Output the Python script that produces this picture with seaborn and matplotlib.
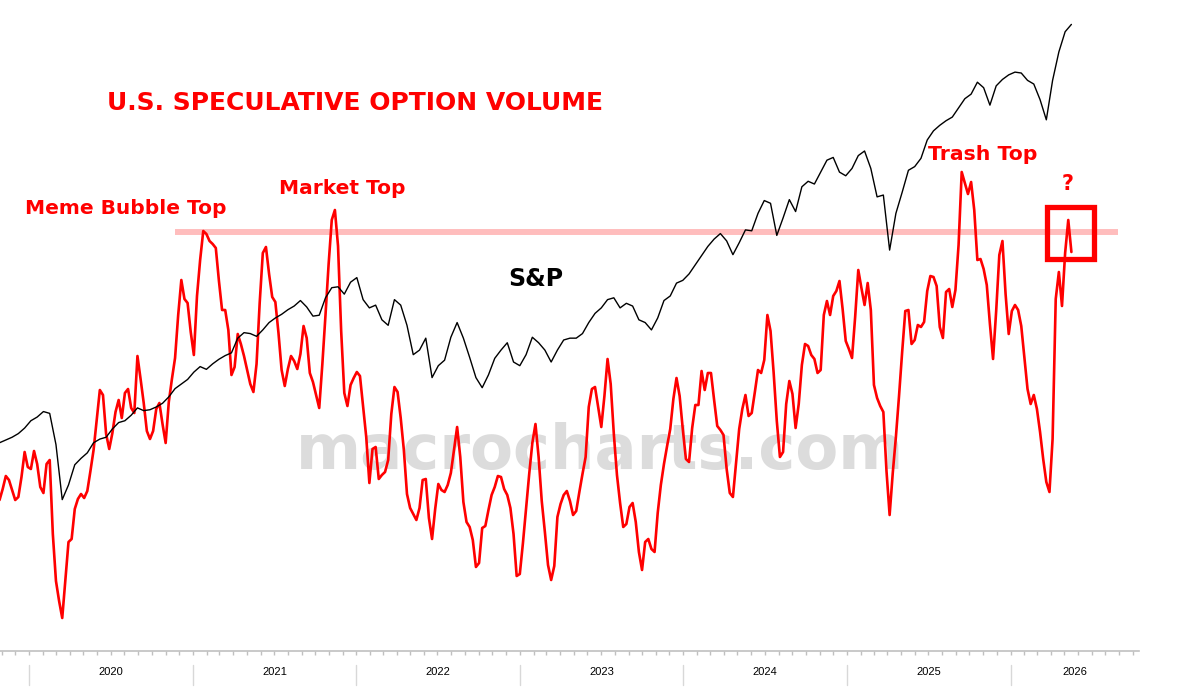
import matplotlib
matplotlib.use("Agg")
import matplotlib.pyplot as plt
import matplotlib.dates as mdates
import matplotlib.transforms as mtransforms
from matplotlib.patches import Rectangle
import pandas as pd
import seaborn as sns

# weekly speculative option volume (arbitrary index units), from 2019-10-27
spec_vol = [
    150, 161, 174, 170, 160, 150, 153, 173, 198, 183,
    181, 199, 186, 163, 157, 186, 190, 116, 69, 49,
    32, 70, 108, 111, 141, 151, 156, 152, 159, 179,
    200, 230, 260, 255, 216, 201, 217, 238, 250, 232,
    257, 261, 242, 237, 294, 271, 247, 219, 211, 219,
    241, 247, 226, 207, 248, 271, 292, 335, 370, 351,
    347, 318, 295, 354, 390, 419, 416, 409, 406, 402,
    369, 340, 340, 320, 275, 283, 316, 306, 294, 280,
    266, 258, 286, 347, 397, 403, 376, 353, 348, 317,
    280, 264, 281, 294, 289, 281, 296, 324, 312, 277,
    268, 255, 242, 286, 335, 386, 430, 440, 404, 319,
    257, 244, 265, 272, 278, 274, 244, 213, 167, 201,
    203, 171, 175, 178, 190, 236, 263, 258, 232, 200,
    156, 142, 136, 130, 142, 170, 171, 132, 111, 141,
    166, 160, 158, 165, 177, 200, 223, 193, 148, 128,
    123, 110, 83, 87, 122, 124, 140, 155, 163, 174,
    173, 161, 155, 142, 116, 74, 76, 107, 142, 176,
    207, 226, 193, 149, 118, 85, 70, 84, 133, 146,
    155, 159, 149, 135, 139, 158, 176, 193, 243, 261,
    263, 243, 223, 254, 291, 266, 216, 175, 147, 123,
    126, 143, 147, 128, 98, 80, 108, 111, 101, 98,
    137, 165, 186, 204, 221, 251, 272, 254, 221, 191,
    188, 222, 245, 245, 279, 260, 277, 277, 250, 224,
    220, 215, 181, 157, 153, 187, 221, 241, 255, 234,
    237, 258, 280, 277, 290, 335, 319, 277, 229, 193,
    198, 246, 269, 256, 222, 246, 285, 306, 304, 295,
    291, 277, 280, 335, 349, 335, 354, 359, 369, 341,
    309, 301, 292, 333, 380, 362, 345, 367, 340, 265,
    252, 244, 238, 179, 135, 177, 213, 254, 298, 339,
    340, 306, 310, 325, 323, 328, 359, 374, 373, 364,
    323, 312, 358, 361, 343, 360, 405, 478, 467, 456,
    468, 440, 390, 391, 381, 365, 326, 291, 339, 395,
    409, 356, 316, 339, 345, 340, 324, 293, 261, 246,
    255, 241, 218, 191, 168, 158, 211, 351, 378, 344,
    397, 430, 398,
]

# S&P 500, every two weeks from 2019-10-27
spx = [
    2970, 3000, 3030, 3070, 3130, 3210, 3250, 3310, 3290, 2950,
    2350, 2510, 2730, 2800, 2860, 2970, 3010, 3030, 3120, 3190,
    3210, 3270, 3350, 3320, 3330, 3360, 3400, 3470, 3560, 3610,
    3660, 3740, 3800, 3770, 3830, 3880, 3920, 3950, 4110, 4170,
    4160, 4130, 4200, 4280, 4330, 4370, 4420, 4460, 4520, 4450,
    4350, 4360, 4550, 4660, 4670, 4590, 4720, 4770, 4530, 4440,
    4470, 4310, 4250, 4530, 4470, 4250, 3930, 3980, 4110, 3680,
    3810, 3870, 4120, 4280, 4110, 3900, 3680, 3570, 3710, 3890,
    3980, 4060, 3850, 3810, 3930, 4120, 4060, 3980, 3850, 3980,
    4090, 4110, 4110, 4160, 4280, 4380, 4440, 4530, 4550, 4440,
    4490, 4460, 4310, 4280, 4200, 4330, 4520, 4570, 4710, 4740,
    4810, 4910, 5010, 5110, 5190, 5250, 5170, 5020, 5150, 5290,
    5280, 5470, 5610, 5580, 5230, 5420, 5620, 5490, 5760, 5820,
    5790, 5920, 6050, 6080, 5920, 5880, 5960, 6100, 6150, 5960,
    5650, 5670, 5070, 5470, 5700, 5940, 5980, 6070, 6270, 6370,
    6430, 6480, 6520, 6620, 6720, 6770, 6900, 6840, 6650, 6860,
    6930, 6980, 7010, 7000, 6920, 6880, 6710, 6490, 6920, 7230,
    7450, 7530,
]

years = [2020, 2021, 2022, 2023, 2024, 2025, 2026]
threshold = 418
threshold_span = ("2020-11-22", "2026-08-30")
box_span = ("2026-03-24", "2026-07-06")
box_range = (391, 443)

vol_dates = pd.date_range("2019-10-27", periods=len(spec_vol), freq="7D")
spx_dates = pd.date_range("2019-10-27", periods=len(spx), freq="14D")

sns.set_style("white")
plt.rcParams['font.family'] = ['DejaVu Sans']

fig = plt.figure(figsize=(12, 6.96), dpi=100)
ax = fig.add_axes([0, 0.06466, 0.94917, 0.93534])
ax.patch.set_visible(False)

x0, x1 = pd.Timestamp("2019-10-28"), pd.Timestamp("2026-10-15")

# watermark behind everything
ax.text(0.5, 0.3506, "macrocharts.com", transform=fig.transFigure, ha="center", va="center",
        fontsize=45, fontweight="bold", color="#dcdcdc", zorder=0)

ax.plot([pd.Timestamp(threshold_span[0]), pd.Timestamp(threshold_span[1])], [threshold, threshold],
        color="#ffbdbd", lw=4.3, solid_capstyle="butt", zorder=1)

sns.lineplot(x=vol_dates, y=spec_vol, ax=ax, color="#ff0000", linewidth=1.9, zorder=3)

b0, b1 = mdates.date2num(pd.Timestamp(box_span[0])), mdates.date2num(pd.Timestamp(box_span[1]))
ax.add_patch(Rectangle((b0, box_range[0]), b1 - b0, box_range[1] - box_range[0],
                       fill=False, edgecolor="#ff0000", lw=3.8, zorder=4))

ax.set_xlim(x0, x1)
ax.set_ylim(-1, 650)

ax2 = ax.twinx()
sns.lineplot(x=spx_dates, y=spx, ax=ax2, color="black", linewidth=1.0, zorder=3)
ax2.set_ylim(700, 7796)
ax2.set_xlim(x0, x1)

for a in (ax, ax2):
    a.set_xlabel("")
    a.set_ylabel("")
    a.set_yticks([])
    for s in ("left", "right", "top"):
        a.spines[s].set_visible(False)
ax2.spines["bottom"].set_visible(False)
ax2.tick_params(axis="x", which="both", bottom=False, length=0, labelbottom=False)

ax.spines["bottom"].set_color("#c0c0c0")
ax.spines["bottom"].set_linewidth(1.2)
ax.xaxis.set_major_locator(mdates.MonthLocator())
ax.tick_params(axis="x", which="major", bottom=True, direction="out", length=3, width=1,
               color="#c0c0c0", labelbottom=False)

trans = mtransforms.blended_transform_factory(ax.transData, ax.transAxes)
for yr in years:
    start = pd.Timestamp(f"{yr}-01-01")
    end = min(pd.Timestamp(f"{yr + 1}-01-01"), x1)
    ax.plot([start, start], [-0.0215, -0.052], transform=trans, color="#d8d8d8", lw=1, clip_on=False)
    mid = start + (end - start) / 2
    ax.text(mid, -0.032, str(yr), transform=trans, ha="center", va="center",
            fontsize=8, family=["Liberation Sans", "DejaVu Sans"], color="black")

red = "#ff0000"
fig.text(107 / 1200, 1 - 103 / 696, "U.S. SPECULATIVE OPTION VOLUME", ha="left", va="center",
         fontsize=18, fontweight="heavy", color=red)
fig.text(25 / 1200, 1 - 209 / 696, "Meme Bubble Top", ha="left", va="center",
         fontsize=14.5, fontweight="bold", color=red)
fig.text(279 / 1200, 1 - 188 / 696, "Market Top", ha="left", va="center",
         fontsize=14.5, fontweight="bold", color=red)
fig.text(928 / 1200, 1 - 155 / 696, "Trash Top", ha="left", va="center",
         fontsize=14.7, fontweight="bold", color=red)
fig.text(1068 / 1200, 1 - 184 / 696, "?", ha="center", va="center",
         fontsize=15, fontweight="bold", color=red)
fig.text(508 / 1200, 1 - 279 / 696, "S&P", ha="left", va="center",
         fontsize=17, fontweight="bold", color="black")

fig.savefig("out.png", dpi=100, facecolor="white")
